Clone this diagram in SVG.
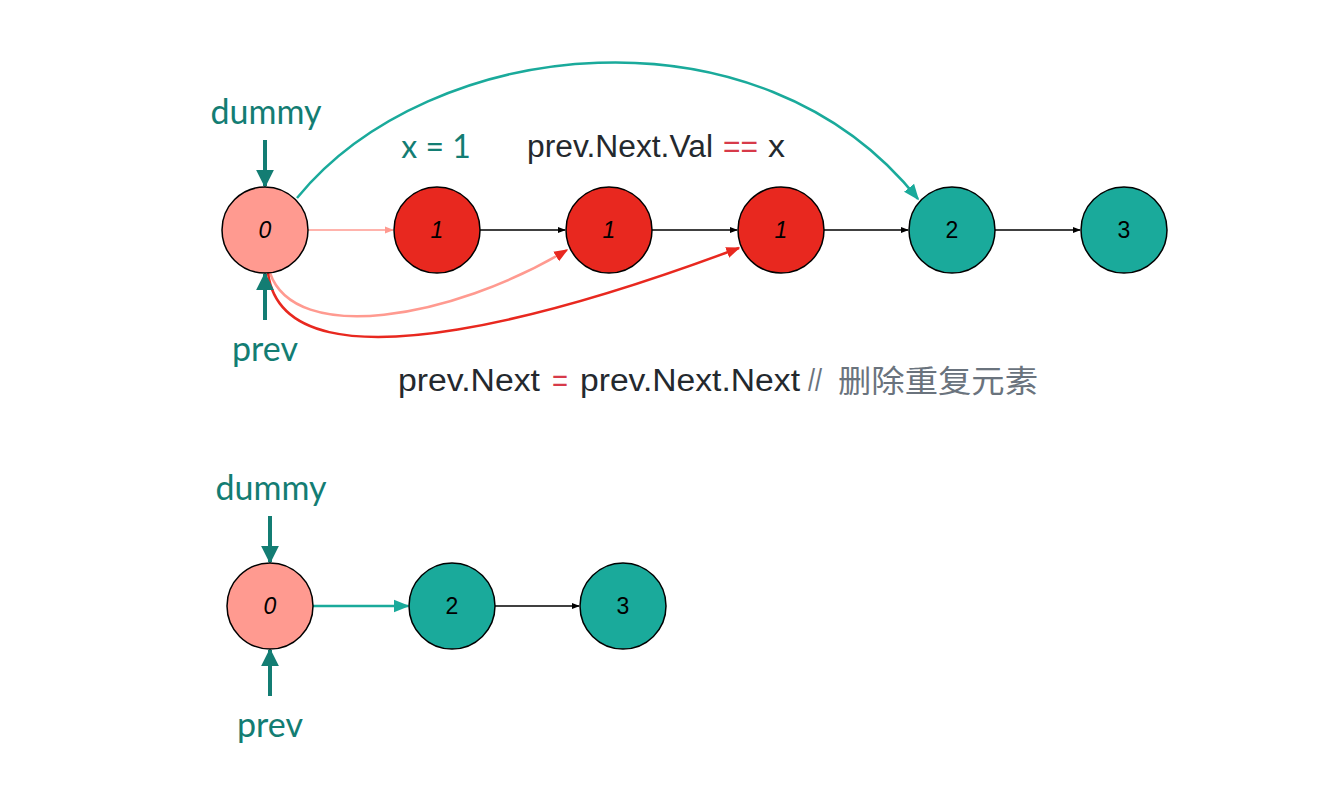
<svg xmlns="http://www.w3.org/2000/svg" width="1338" height="794" viewBox="0 0 1338 794">
<style>
.node{stroke:#000;stroke-width:1.5}
.n0{fill:#ff9a90}
.nr{fill:#e8281f}
.nt{fill:#1aaa9b}
.lbl{font-family:"Liberation Sans",Arial,sans-serif;font-size:23px;text-anchor:middle;dominant-baseline:central;fill:#000}
.it{font-style:italic}
.ptr{font-family:"Lato","Liberation Sans",sans-serif;font-size:34px;fill:#137d73;text-anchor:middle}
.code{font-family:"Liberation Sans",Arial,"Noto Sans CJK SC",sans-serif;font-size:31px;fill:#24292e}
.op{fill:#d73a49}
.cm{fill:#6a737d}
.cjk{font-family:"Noto Sans CJK SC",sans-serif;font-size:31px;fill:#6a737d}
.pa{stroke:#137d73;stroke-width:4;fill:none}
</style>
<defs>
<marker id="ab" viewBox="0 0 10 10" refX="9" refY="5" markerWidth="8" markerHeight="8" markerUnits="userSpaceOnUse" orient="auto"><path d="M0,1 L10,5 L0,9 z" fill="#000"/></marker>
<marker id="as" viewBox="0 0 10 10" refX="9" refY="5" markerWidth="9" markerHeight="9" markerUnits="userSpaceOnUse" orient="auto"><path d="M0,1 L10,5 L0,9 z" fill="#ff9a90"/></marker>
<marker id="ar" viewBox="0 0 10 10" refX="9" refY="5" markerWidth="14" markerHeight="14" markerUnits="userSpaceOnUse" orient="auto"><path d="M0,1 L10,5 L0,9 z" fill="#e8281f"/></marker>
<marker id="at" viewBox="0 0 10 10" refX="9" refY="5" markerWidth="16" markerHeight="16" markerUnits="userSpaceOnUse" orient="auto"><path d="M0,1 L10,5 L0,9 z" fill="#1aaa9b"/></marker>
<marker id="ap" viewBox="0 0 10 10" refX="9" refY="5" markerWidth="18" markerHeight="18" markerUnits="userSpaceOnUse" orient="auto"><path d="M0,0 L10,5 L0,10 z" fill="#137d73"/></marker>
</defs>

<g id="connectors">
<line x1="308" y1="230" x2="393" y2="230" stroke="#ff9a90" stroke-width="1.5" marker-end="url(#as)"/>
<line x1="480" y1="230" x2="565" y2="230" stroke="#000" stroke-width="1.5" marker-end="url(#ab)"/>
<line x1="652" y1="230" x2="737" y2="230" stroke="#000" stroke-width="1.5" marker-end="url(#ab)"/>
<line x1="824" y1="230" x2="908" y2="230" stroke="#000" stroke-width="1.5" marker-end="url(#ab)"/>
<line x1="995" y1="230" x2="1080" y2="230" stroke="#000" stroke-width="1.5" marker-end="url(#ab)"/>
<path d="M297,198 C430,35 760,0 918,199" stroke="#1aaa9b" stroke-width="2.5" fill="none" marker-end="url(#at)"/>
<path d="M270,273 C295,345 450,320 567,250" stroke="#ff9a90" stroke-width="2.5" fill="none" marker-end="url(#ar)"/>
<path d="M268,273 C285,405 600,300 739,248" stroke="#e8281f" stroke-width="2.5" fill="none" marker-end="url(#ar)"/>
<line x1="313" y1="606" x2="408" y2="606" stroke="#1aaa9b" stroke-width="2.5" marker-end="url(#at)"/>
<line x1="495" y1="606" x2="579" y2="606" stroke="#000" stroke-width="1.5" marker-end="url(#ab)"/>
<line x1="265" y1="140" x2="265" y2="186" class="pa" marker-end="url(#ap)"/>
<line x1="265" y1="320" x2="265" y2="274" class="pa" marker-end="url(#ap)"/>
<line x1="270" y1="516" x2="270" y2="562" class="pa" marker-end="url(#ap)"/>
<line x1="270" y1="696" x2="270" y2="650" class="pa" marker-end="url(#ap)"/>
</g>

<g id="node-top-0"><circle class="node n0" cx="265" cy="230" r="43"/><text class="lbl it" x="265" y="230">0</text></g>
<g id="node-top-1a"><circle class="node nr" cx="437" cy="230" r="43"/><text class="lbl it" x="437" y="230">1</text></g>
<g id="node-top-1b"><circle class="node nr" cx="609" cy="230" r="43"/><text class="lbl it" x="609" y="230">1</text></g>
<g id="node-top-1c"><circle class="node nr" cx="781" cy="230" r="43"/><text class="lbl it" x="781" y="230">1</text></g>
<g id="node-top-2"><circle class="node nt" cx="952" cy="230" r="43"/><text class="lbl" x="952" y="230">2</text></g>
<g id="node-top-3"><circle class="node nt" cx="1124" cy="230" r="43"/><text class="lbl" x="1124" y="230">3</text></g>

<g id="node-bot-0"><circle class="node n0" cx="270" cy="606" r="43"/><text class="lbl it" x="270" y="606">0</text></g>
<g id="node-bot-2"><circle class="node nt" cx="452" cy="606" r="43"/><text class="lbl" x="452" y="606">2</text></g>
<g id="node-bot-3"><circle class="node nt" cx="623" cy="606" r="43"/><text class="lbl" x="623" y="606">3</text></g>

<g id="labels">
<text class="ptr" x="266" y="124">dummy</text>
<text class="ptr" x="265" y="361">prev</text>
<text class="ptr" x="271" y="500">dummy</text>
<text class="ptr" x="270" y="737">prev</text>
<text class="ptr" x="436" y="158" style="font-size:32px">x = 1</text>
<text class="code" x="527" y="157" textLength="186" lengthAdjust="spacingAndGlyphs">prev.Next.Val</text>
<text class="code op" x="723" y="157" textLength="35" lengthAdjust="spacingAndGlyphs">==</text>
<text class="code" x="768" y="157" textLength="17" lengthAdjust="spacingAndGlyphs">x</text>
<text class="code" x="398" y="391" textLength="142" lengthAdjust="spacingAndGlyphs">prev.Next</text>
<text class="code op" x="552" y="391" textLength="16" lengthAdjust="spacingAndGlyphs">=</text>
<text class="code" x="580" y="391" textLength="220" lengthAdjust="spacingAndGlyphs">prev.Next.Next</text>
<text class="code cm" x="808" y="391" textLength="14" lengthAdjust="spacingAndGlyphs">//</text>
<text class="cjk" x="838" y="392" textLength="200" lengthAdjust="spacingAndGlyphs">删除重复元素</text>
</g>
</svg>
